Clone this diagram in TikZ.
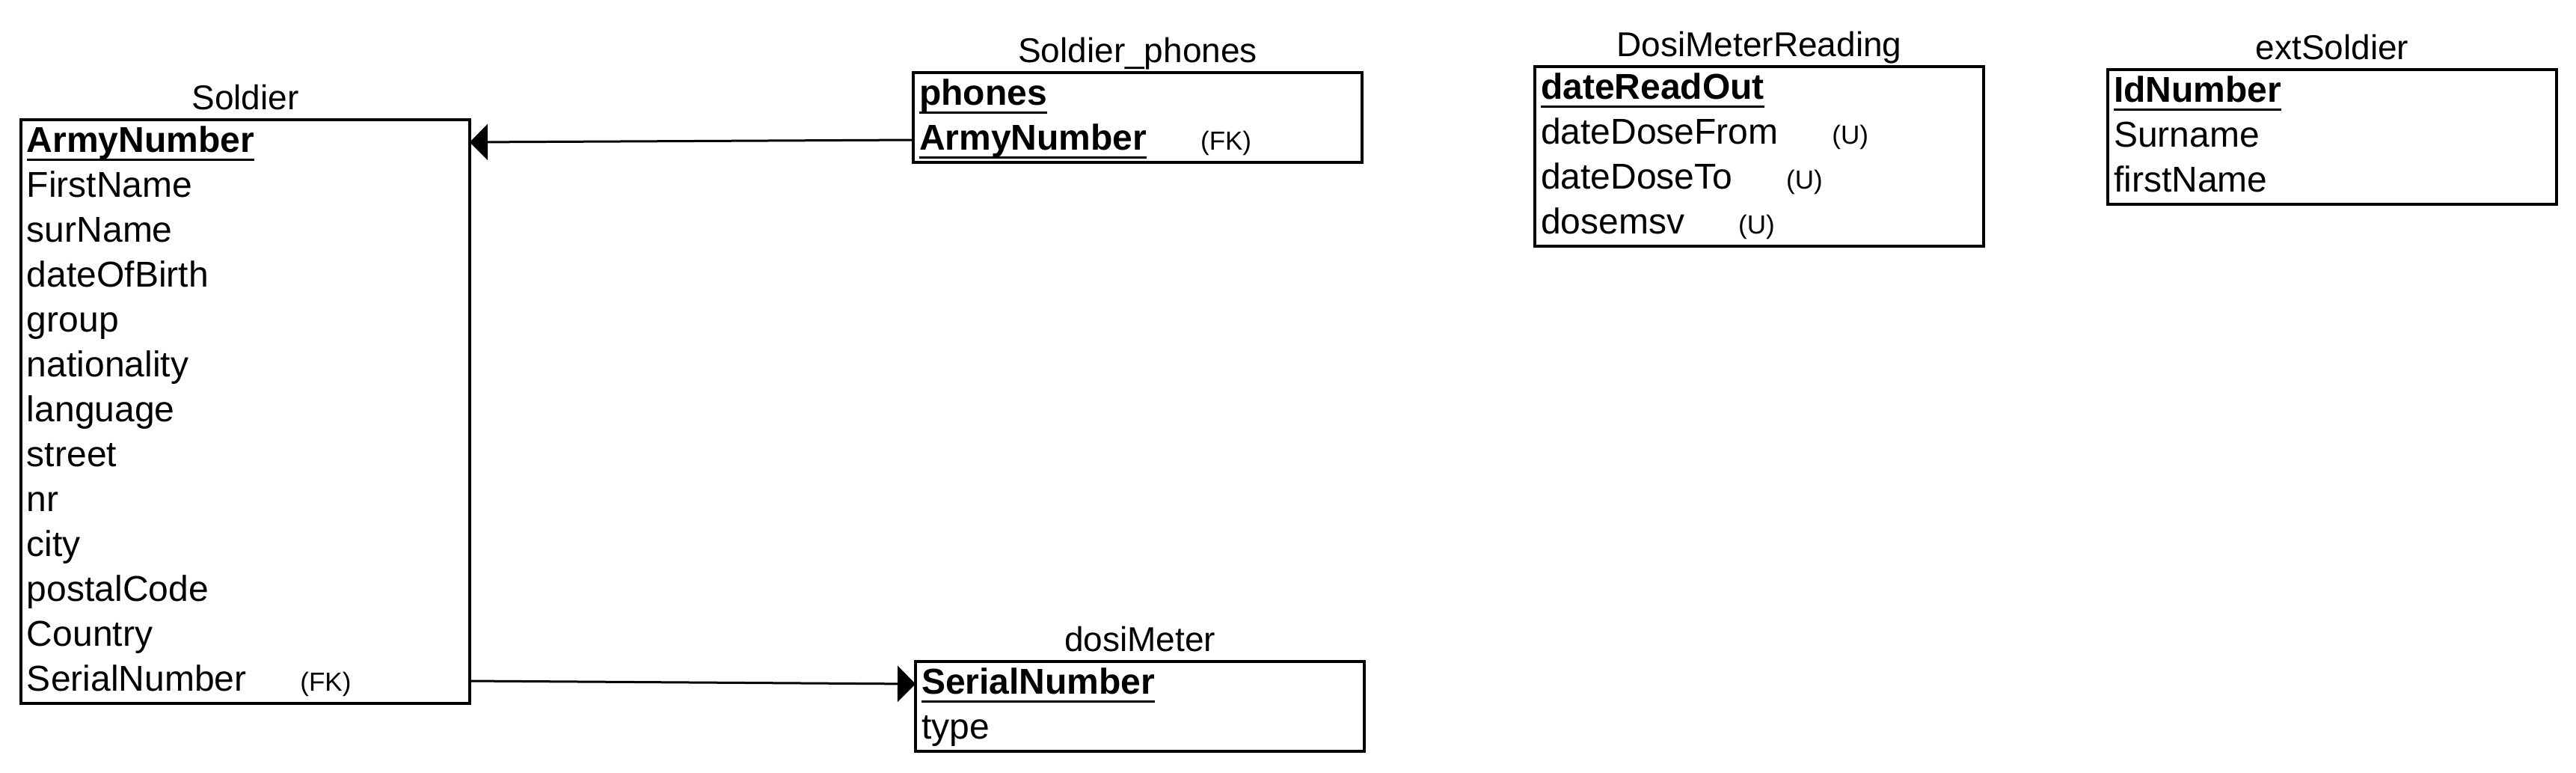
\documentclass[tikz,border=0pt]{standalone}
\usepackage{fontspec}
\setmainfont{Liberation Sans}
\usetikzlibrary{arrows.meta, positioning, fit}
\newcommand{\pkey}[1]{\setbox0\hbox{\bfseries #1}\rlap{\rule[-2.9pt]{\wd0}{0.75pt}}\box0}
\newcommand{\flag}[1]{\hspace{18pt}{\fontsize{8.75}{10}\selectfont(#1)}}

\begin{document}
\begin{tikzpicture}[
    field/.style={text width=146pt, inner xsep=2pt, inner ysep=0pt, outer sep=0pt, text height=10.75pt, text depth=4.25pt, align=left, font=\fontsize{12}{14}\selectfont},
    table/.style={draw, line width=1pt, inner sep=0pt, fit=#1},
    title/.style={anchor=base, inner sep=0pt, font=\fontsize{11.5}{13}\selectfont},
    link/.style={-{Triangle[length=6pt, width=12pt]}, line width=0.75pt},
    node distance=0pt
]
    \useasboundingbox (0,0) rectangle (861pt,-258pt);

    % Soldier
    \node[field, anchor=north west] (armyno) at (7pt,-40pt) {\pkey{ArmyNumber}};
    \node[field, below=of armyno] (fname) {FirstName};
    \node[field, below=of fname] (sname) {surName};
    \node[field, below=of sname] (dob) {dateOfBirth};
    \node[field, below=of dob] (grp) {group};
    \node[field, below=of grp] (nat) {nationality};
    \node[field, below=of nat] (lang) {language};
    \node[field, below=of lang] (street) {street};
    \node[field, below=of street] (nr) {nr};
    \node[field, below=of nr] (city) {city};
    \node[field, below=of city] (pcode) {postalCode};
    \node[field, below=of pcode] (country) {Country};
    \node[field, below=of country] (serial) {SerialNumber\flag{FK}};
    \node[table=(armyno)(serial)] (soldier) {};
    \node[title] (soldierT) at ([yshift=3pt]soldier.north) {Soldier};

    % Soldier_phones
    \node[field, anchor=north west] (phones) at (305.25pt,-24.25pt) {\pkey{phones}};
    \node[field, below=of phones] (phArmy) {\pkey{ArmyNumber}\flag{FK}};
    \node[table=(phones)(phArmy)] (phonetab) {};
    \node[title] (phonetabT) at ([yshift=3pt]phonetab.north) {Soldier\_phones};

    % DosiMeterReading
    \node[field, anchor=north west] (readout) at (513pt,-22.25pt) {\pkey{dateReadOut}};
    \node[field, below=of readout] (dfrom) {dateDoseFrom\flag{U}};
    \node[field, below=of dfrom] (dto) {dateDoseTo\flag{U}};
    \node[field, below=of dto] (dose) {dosemsv\flag{U}};
    \node[table=(readout)(dose)] (readtab) {};
    \node[title] (readtabT) at ([yshift=3pt]readtab.north) {DosiMeterReading};

    % extSoldier
    \node[field, anchor=north west] (idno) at (704.5pt,-23.25pt) {\pkey{IdNumber}};
    \node[field, below=of idno] (extSur) {Surname};
    \node[field, below=of extSur] (extFirst) {firstName};
    \node[table=(idno)(extFirst)] (exttab) {};
    \node[title] (exttabT) at ([yshift=3pt]exttab.north) {extSoldier};

    % dosiMeter
    \node[field, anchor=north west] (dmSerial) at (306pt,-221pt) {\pkey{SerialNumber}};
    \node[field, below=of dmSerial] (dmType) {type};
    \node[table=(dmSerial)(dmType)] (dosimeter) {};
    \node[title] (dosimeterT) at ([yshift=3pt]dosimeter.north) {dosiMeter};

    % Foreign keys
    \draw[link] (phArmy.west) -- (armyno.east);
    \draw[link] (serial.east) -- (dmSerial.west);
\end{tikzpicture}
\end{document}
